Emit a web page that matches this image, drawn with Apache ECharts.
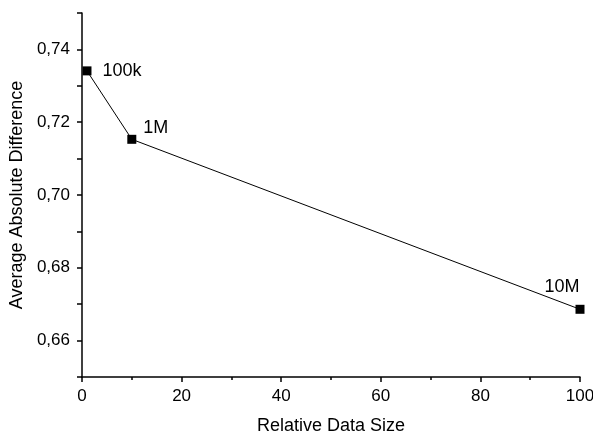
<!DOCTYPE html>
<html>
<head>
<meta charset="utf-8">
<script src="https://cdn.jsdelivr.net/npm/echarts@6/dist/echarts.min.js"></script>
<style>
  html, body { margin: 0; padding: 0; background: #fff; }
  #chart { width: 593px; height: 436px; }
</style>
</head>
<body>
<div id="chart"></div>
<script>
// data
var sizes = [1, 10, 100];
var diffs = [0.7341, 0.7153, 0.6686];
var pointNames = ['100k', '1M', '10M'];
var xTicks = [0, 20, 40, 60, 80, 100];
var yTicks = [0.66, 0.68, 0.70, 0.72, 0.74];

// label placement per point
var labelOffsets = [[6, 0, 'right'], [2, -11, 'right'], [-18, -4, 'top']];

var font = 'Liberation Sans, Arial, sans-serif';

var myChart = echarts.init(document.getElementById('chart'));

var pts = sizes.map(function (x, i) {
    return {
        value: [x, diffs[i]],
        name: pointNames[i],
        label: {
            show: true,
            position: labelOffsets[i][2],
            offset: [labelOffsets[i][0], labelOffsets[i][1]],
            formatter: '{b}',
            color: '#000',
            fontSize: 18,
            fontFamily: font
        }
    };
});

var option = {
    animation: false,
    grid: { left: 82, right: 13, top: 13, bottom: 59, outerBoundsMode: 'none' },
    xAxis: {
        type: 'value',
        min: 0,
        max: 100,
        interval: 20,
        name: 'Relative Data Size',
        nameLocation: 'middle',
        nameGap: 40,
        nameTextStyle: { color: '#000', fontSize: 18, fontFamily: font },
        axisLine: { lineStyle: { color: '#000', width: 1.5 } },
        axisTick: { inside: false, length: 5, lineStyle: { color: '#000', width: 1.5 } },
        minorTick: { show: true, splitNumber: 2, length: 3, lineStyle: { color: '#000', width: 1.5 } },
        axisLabel: {
            color: '#000', fontSize: 17, fontFamily: font, margin: 11,
            formatter: function (v) { return xTicks.indexOf(v) >= 0 ? String(v) : ''; }
        },
        splitLine: { show: false }
    },
    yAxis: {
        type: 'value',
        min: 0.65,
        max: 0.75,
        interval: 0.01,
        name: 'Average Absolute Difference',
        nameLocation: 'middle',
        nameGap: 55,
        nameTextStyle: { color: '#000', fontSize: 18, fontFamily: font },
        axisLine: { show: true, lineStyle: { color: '#000', width: 1.5 } },
        axisTick: {
            show: true, length: 5, lineStyle: { color: '#000', width: 1.5 }
        },
        axisLabel: {
            color: '#000', fontSize: 17, fontFamily: font, margin: 12,
            formatter: function (v) {
                var hit = yTicks.some(function (t) { return Math.abs(t - v) < 1e-6; });
                return hit ? v.toFixed(2).replace('.', ',') : '';
            }
        },
        splitLine: { show: false }
    },
    series: [
        {
            type: 'line',
            data: pts,
            symbol: 'rect',
            symbolSize: 9,
            clip: false,
            lineStyle: { color: '#000', width: 1 },
            itemStyle: { color: '#000' }
        }
    ]
};
myChart.setOption(option);
</script>
</body>
</html>
